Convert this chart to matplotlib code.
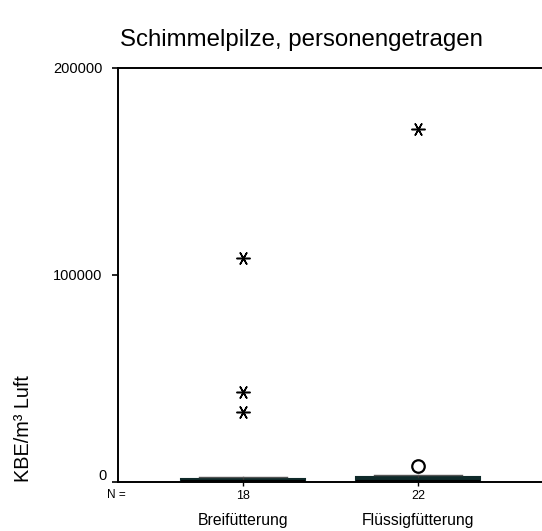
import matplotlib.pyplot as plt
from matplotlib.transforms import ScaledTranslation

plt.rcParams['font.family'] = ['Liberation Sans', 'DejaVu Sans']

# Gruppen und Fallzahlen
groups = ['Breifütterung', 'Flüssigfütterung']
n_cases = [18, 22]

# Boxplot-Kennwerte (KBE/m³ Luft)
q1 = [150, 200]
medians = [400, 700]
q3 = [1400, 2200]
whisk_lo = [0, 0]
whisk_hi = [2400, 3300]

# Ausreißer (Kreis) und Extremwerte (Stern)
outliers = [[], [7800]]
extremes = [[108000, 43600, 34000], [170500]]

fig = plt.figure(figsize=(5.42, 5.31), dpi=100)
ax = fig.add_axes([118 / 542, 1 - 482 / 531, 1 - 118 / 542, (482 - 68) / 531])

pos = [1, 2]
stats = []
for i, g in enumerate(groups):
    stats.append(dict(label=g, med=medians[i], q1=q1[i], q3=q3[i],
                      whislo=whisk_lo[i], whishi=whisk_hi[i], fliers=[]))

ax.bxp(stats, positions=pos, widths=0.71, patch_artist=True, showfliers=False,
       boxprops=dict(facecolor='#0f2a2a', edgecolor='#0f2a2a', linewidth=1.5),
       medianprops=dict(color='black', linewidth=1.5),
       whiskerprops=dict(color='#333333', linewidth=1),
       capprops=dict(color='#555555', linewidth=1), capwidths=0.5)

for i, p in enumerate(pos):
    if outliers[i]:
        ax.plot([p] * len(outliers[i]), outliers[i], 'o', ms=9, mfc='white',
                mec='black', mew=1.6, clip_on=False)
    if extremes[i]:
        ax.plot([p] * len(extremes[i]), extremes[i], marker=(6, 2, 90),
                ls='none', ms=10, color='black', mew=1.1, clip_on=False)

ax.set_xlim(0.286, 2.709)
ax.set_ylim(0, 200000)
ax.set_yticks([0, 100000, 200000])
ax.set_yticklabels(['0', '100000', '200000'], fontsize=10.5)
ax.set_xticks(pos)
ax.set_xticklabels([str(n) for n in n_cases], fontsize=9)

ax.tick_params(axis='y', length=4.3, width=1.2, pad=7, direction='out')
ax.tick_params(axis='x', length=3, width=1, pad=3, direction='out')

# "0" sitzt im Original etwas höher und weiter rechts
zero_lab = ax.get_yticklabels()[0]
zero_lab.set_transform(zero_lab.get_transform() +
                       ScaledTranslation(4 / 100, 7 / 100, fig.dpi_scale_trans))

ax.spines['right'].set_visible(False)
for s in ['left', 'top', 'bottom']:
    ax.spines[s].set_linewidth(1.4)

fig.text(107 / 542, 1 - 495 / 531, 'N =', fontsize=8.5, ha='left', va='center')
for i, g in enumerate(groups):
    x_fig = ax.transData.transform((pos[i], 0))[0] / fig.bbox.width
    fig.text(x_fig, 1 - 520 / 531, g, fontsize=11.3, ha='center', va='center')

fig.text(301 / 542, 1 - 40 / 531, 'Schimmelpilze, personengetragen',
         fontsize=17.3, ha='center', va='center')
fig.text(24 / 542, 1 - 429 / 531, 'KBE/m³ Luft', fontsize=14.3,
         rotation=90, ha='center', va='center')

fig.savefig('out.png', dpi=100)
